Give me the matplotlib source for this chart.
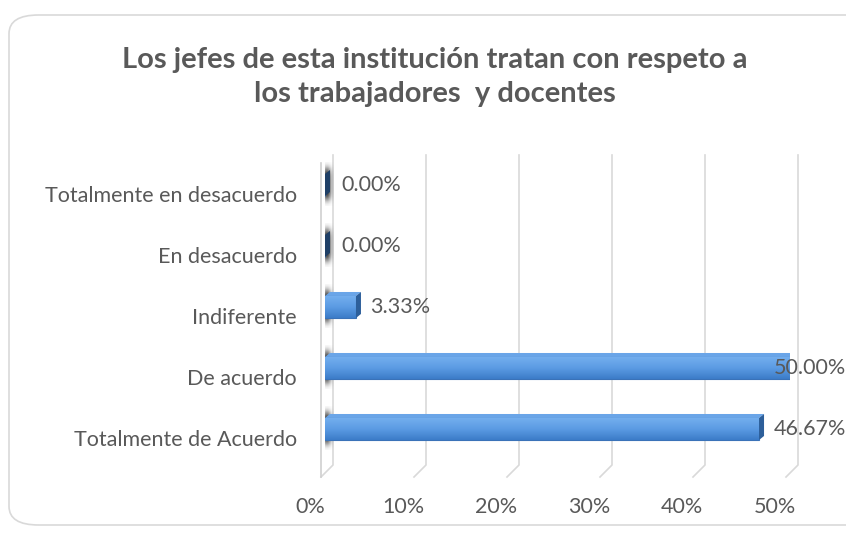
import matplotlib.pyplot as plt
import numpy as np
from matplotlib.patches import Polygon, FancyBboxPatch
from matplotlib.colors import LinearSegmentedColormap

categorias = ['Totalmente de Acuerdo', 'De acuerdo', 'Indiferente',
              'En desacuerdo', 'Totalmente en desacuerdo']
porcentajes = [46.67, 50.00, 3.33, 0.00, 0.00]
ticks = [0, 10, 20, 30, 40, 50]
titulo = 'Los jefes de esta institución tratan con respeto a\nlos trabajadores  y docentes'

plt.rcParams['font.family'] = ['Lato', 'DejaVu Sans']
gris = '#595959'

W, H = 846, 533
fig = plt.figure(figsize=(W / 100, H / 100), dpi=100)
fig.patch.set_facecolor('white')

# marco redondeado del grafico
marco = FancyBboxPatch((9 / W, 8 / H), 900 / W, 510 / H,
                       boxstyle='round,pad=0,rounding_size=0.035',
                       transform=fig.transFigure, fill=False,
                       edgecolor='#d9d9d9', linewidth=1.2)
fig.patches.append(marco)

fig.text(435 / W, 1 - 77 / H, titulo, ha='center', va='center',
         fontsize=21, fontweight='bold', color=gris, linespacing=1.42)

# area de trazado: 0% en x=325px, 50% en x=790px
ax = fig.add_axes([325 / W, 58 / H, 465 / W, 320 / H])
y0, y1 = -0.574, 4.672
ax.set_xlim(0, 50)
ax.set_ylim(y0, y1)
ax.axis('off')

ux = 50 / 465          # unidades de datos por pixel
uy = (y1 - y0) / 320

# lineas de cuadricula con el pie inclinado (efecto 3D)
for t in ticks:
    xb = t + 8 * ux
    ybot = y0 + 10 * uy
    ax.plot([xb, xb, xb - 12 * ux], [y1, ybot, ybot - 12 * uy],
            color='#d9d9d9', lw=1.2, clip_on=False, zorder=1)
    ax.text(t - 15 * ux, y0 - 32 * uy, f'{t}%', ha='center', va='center',
            fontsize=15.5, color=gris, clip_on=False)

# pared lateral izquierda
ax.plot([-4 * ux, -4 * ux], [y1 - 8 * uy, y0 - 2 * uy],
        color='#d0d0d0', lw=1.2, clip_on=False, zorder=1)

for k, nombre in enumerate(categorias):
    ax.text(-28 * ux, k, nombre, ha='right', va='center',
            fontsize=15.5, color=gris, clip_on=False)

cmap = LinearSegmentedColormap.from_list('azul', ['#3c7cc8', '#5b9be3', '#73aeee'])

# mancha de sombra difusa sobre la pared
gy = np.linspace(-1, 1, 60)[:, None]
gx = np.linspace(-1, 1, 20)[None, :]
alfa = np.exp(-(gy / 0.75) ** 4) * np.exp(-((gx + 0.1) / 0.7) ** 2) * 0.85
sombra = np.zeros((60, 20, 4))
sombra[..., 3] = alfa

for k, v in enumerate(porcentajes):
    c = k + 11 * uy
    hb = 11 * uy
    ya, yb = c - hb, c + hb
    ax.imshow(sombra, extent=(-4 * ux, 9 * ux, ya - 10 * uy, yb + 12 * uy),
              aspect='auto', origin='lower', zorder=2, interpolation='bilinear')
    bar = ax.barh(c, v, height=2 * hb, left=0, color='#4a8bd6',
                  edgecolor='#3a72b8', linewidth=0.8, zorder=4)[0]
    grad = np.linspace(0, 1, 50).reshape(-1, 1)
    im = ax.imshow(grad, extent=(0, 50, ya, yb), aspect='auto', cmap=cmap,
                   origin='lower', zorder=4.5)
    im.set_clip_path(bar)
    dx, dy = 5 * ux, 4 * uy
    top = Polygon([(0, yb), (v, yb), (v + dx, yb + dy), (dx, yb + dy)],
                  closed=True, facecolor='#6aa5e8', edgecolor='none', zorder=3)
    side = Polygon([(v, ya), (v, yb), (v + dx, yb + dy), (v + dx, ya + dy)],
                   closed=True, facecolor='#1f3f66' if v == 0 else '#2d5f9a',
                   edgecolor='none', zorder=5)
    ax.add_patch(top)
    ax.add_patch(side)
    lx = min(v + 1.0 + 5 * ux, 48.3) if v > 0 else 16 * ux
    ax.text(lx, c, f'{v:.2f}%', ha='left', va='center', fontsize=15.5,
            color=gris, clip_on=False, zorder=6)

ax.set_xlim(0, 50)
ax.set_ylim(y0, y1)

fig.savefig('out.png', dpi=100)
